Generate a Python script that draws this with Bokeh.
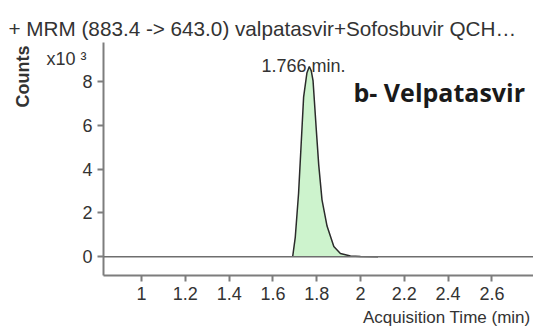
from bokeh.plotting import figure
from bokeh.models import FixedTicker, Span, Label, Title, LinearAxis
from bokeh.embed import file_html
from bokeh.resources import INLINE

# Data (retention time in min, counts in x10^3)
peak_time = [1.690, 1.702, 1.717, 1.728, 1.740, 1.755, 1.766, 1.775, 1.783, 1.798,
             1.809, 1.824, 1.847, 1.878, 1.908, 1.954, 2.000, 2.080]
peak_counts = [0.0, 0.9, 2.9, 5.0, 7.3, 8.4, 8.7, 8.5, 8.06, 5.8,
               4.2, 2.6, 1.4, 0.47, 0.15, 0.03, 0.01, 0.0]
x_ticks = [1.0, 1.2, 1.4, 1.6, 1.8, 2.0, 2.2, 2.4, 2.6]
x_tick_labels = ["1", "1.2", "1.4", "1.6", "1.8", "2", "2.2", "2.4", "2.6"]
y_ticks = [0, 2, 4, 6, 8]
scale_label = "x10  ³"
title_text = "+ MRM (883.4 -> 643.0) valpatasvir+Sofosbuvir QCH…"
peak_label = "1.766 min."
compound = "b- Velpatasvir"
x_title = "Acquisition Time (min)"
y_title = "Counts"

FONT = "Liberation Sans"
AX = "#7d7d7d"
TXT = "#333333"

p = figure(width=533, height=333, x_range=(0.826, 2.79), y_range=(-0.86, 9.8),
           output_backend="svg", toolbar_location=None,
           min_border_left=103, min_border_right=0, min_border_top=42, min_border_bottom=58)
p.outline_line_color = None
p.grid.grid_line_color = None
p.background_fill_color = "white"
p.border_fill_color = "white"

for ax in (p.xaxis[0], p.yaxis[0]):
    ax.axis_line_color = AX
    ax.axis_line_width = 2
    ax.major_tick_line_color = AX
    ax.major_tick_line_width = 2
    ax.major_tick_out = 6
    ax.major_tick_in = 0
    ax.minor_tick_line_color = None
    ax.major_label_text_font = FONT
    ax.major_label_text_font_size = "18px"
    ax.major_label_text_color = TXT

p.xaxis.ticker = FixedTicker(ticks=x_ticks)
p.xaxis.major_label_overrides = {t: l for t, l in zip(x_ticks, x_tick_labels)}
p.xaxis.major_label_standoff = 5
p.yaxis.ticker = FixedTicker(ticks=y_ticks)
p.yaxis.major_label_standoff = 5

# scale factor "x10 3" drawn as a tick label of an extra, invisible left axis
sc = LinearAxis(ticker=FixedTicker(ticks=[9.03]), major_label_overrides={9.03: scale_label},
                axis_line_color=None, major_tick_line_color=None, minor_tick_line_color=None,
                major_tick_out=0, major_tick_in=0, major_label_standoff=-12,
                major_label_text_font=FONT, major_label_text_font_size="18px",
                major_label_text_color=TXT)
p.add_layout(sc, "left")

p.add_layout(Title(text=y_title, align="right", offset=3, standoff=21,
                   text_font=FONT, text_font_size="18px", text_font_style="bold",
                   text_color=TXT), "left")
p.add_layout(Title(text=title_text, align="left", offset=-95, standoff=5,
                   text_font=FONT, text_font_size="20.7px", text_font_style="normal",
                   text_color=TXT), "above")
p.add_layout(Title(text=x_title, align="right", offset=3, standoff=6,
                   text_font=FONT, text_font_size="17px", text_font_style="normal",
                   text_color=TXT), "below")

p.add_layout(Span(location=0, dimension="width", line_color="#6e6e6e", line_width=1.5))

p.varea(x=peak_time, y1=[0] * len(peak_time), y2=peak_counts, fill_color="#cdf3cd")
p.line(x=peak_time, y=peak_counts, line_color="#2b2b2b", line_width=1.5)

def lab(text, x, y, size, align="left", baseline="middle", style="normal", font=FONT, color=TXT):
    p.add_layout(Label(x=x, y=y, x_units="canvas", y_units="canvas", text=text,
                       text_font=font, text_font_size=size, text_align=align,
                       text_baseline=baseline, text_font_style=style, text_color=color))

lab(peak_label, 303, 65, "18px", align="center")
lab(compound, 353, 91, "25px", style="bold", font="Open Sans", color="#1a1a1a")

open("out.html", "w").write(file_html(p, INLINE))
